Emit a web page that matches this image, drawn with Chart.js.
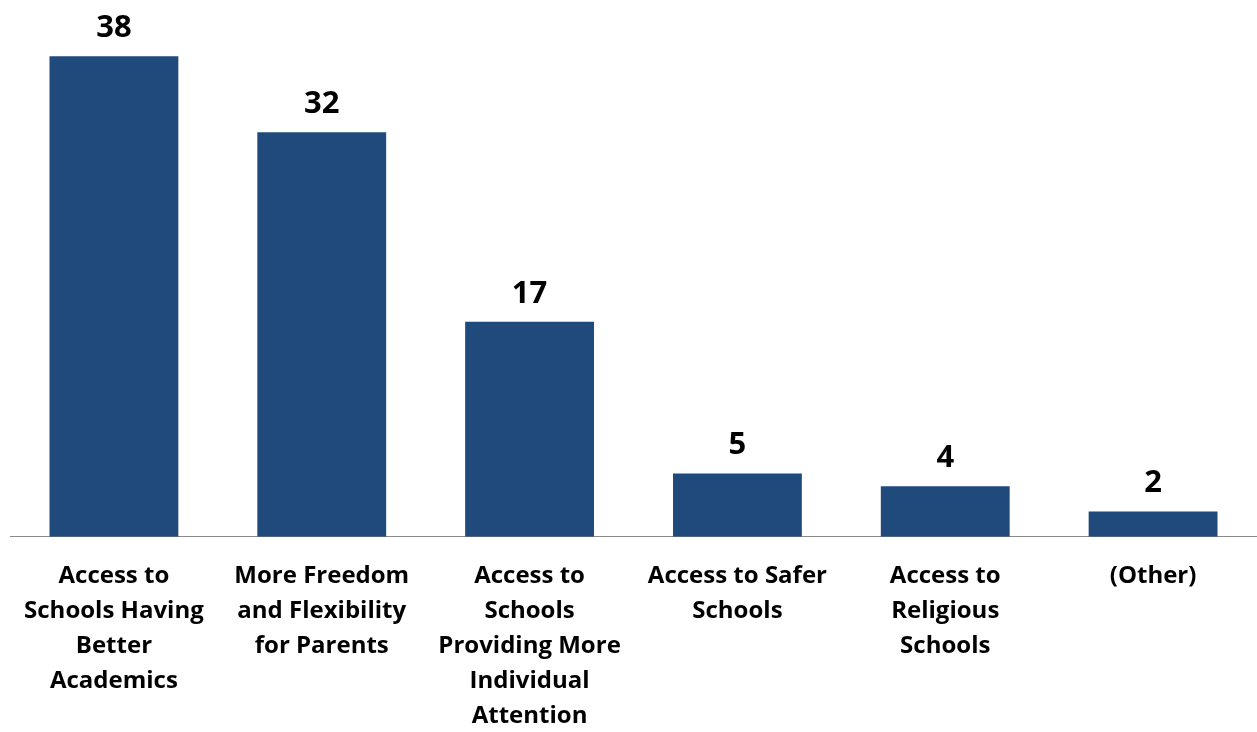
<!DOCTYPE html>
<html lang="en">
<head>
    <meta charset="UTF-8">
    <title>Reasons for Support</title>
    <style>
        html, body { margin: 0; padding: 0; background: #fff; }
        .chart-container { width: 1257px; height: 732px; }
    </style>
</head>
<body>
    <div class="chart-container">
        <canvas class="reasons-chart"></canvas>
    </div>

    <script src="https://cdn.jsdelivr.net/npm/chart.js@4/dist/chart.umd.min.js"></script>
    <script>
        // Categories (each line of a label is one entry)
        const categories = [
            ['Access to', 'Schools Having', 'Better', 'Academics'],
            ['More Freedom', 'and Flexibility', 'for Parents'],
            ['Access to', 'Schools', 'Providing More', 'Individual', 'Attention'],
            ['Access to Safer', 'Schools'],
            ['Access to', 'Religious', 'Schools'],
            ['(Other)']
        ];
        const percents = [38, 32, 17, 5, 4, 2];

        const barColor = '#204a7b';
        const fontFamily = '"Open Sans", Lato, sans-serif';

        // Writes each bar's value just above it
        const valueLabels = {
            id: 'valueLabels',
            afterDatasetsDraw(chart) {
                const ctx = chart.ctx;
                const meta = chart.getDatasetMeta(0);
                ctx.save();
                ctx.font = 'bold 31px ' + fontFamily;
                ctx.fillStyle = '#000';
                ctx.textAlign = 'center';
                ctx.textBaseline = 'middle';
                meta.data.forEach((bar, i) => {
                    ctx.fillText(chart.data.datasets[0].data[i], bar.x, bar.y - 28);
                });
                ctx.restore();
            }
        };

        const ctx = document.querySelector('.reasons-chart').getContext('2d');
        const chart = new Chart(ctx, {
            type: 'bar',
            data: {
                labels: categories,
                datasets: [{
                    data: percents,
                    backgroundColor: barColor,
                    borderWidth: 0,
                    categoryPercentage: 1,
                    barPercentage: 0.62
                }]
            },
            options: {
                responsive: true,
                maintainAspectRatio: false,
                animation: false,
                layout: { padding: { top: 31, left: 10, right: 0, bottom: -16 } },
                plugins: {
                    legend: { display: false },
                    tooltip: { enabled: false }
                },
                scales: {
                    x: {
                        grid: { display: false },
                        border: { display: true, color: '#8a8a8a', width: 1 },
                        ticks: {
                            color: '#000',
                            maxRotation: 0,
                            autoSkip: false,
                            padding: 14,
                            font: { family: fontFamily, size: 24, weight: 'bold', lineHeight: 1.46 }
                        }
                    },
                    y: {
                        display: false,
                        min: 0,
                        max: 40
                    }
                }
            },
            plugins: [valueLabels]
        });
    </script>
</body>
</html>
